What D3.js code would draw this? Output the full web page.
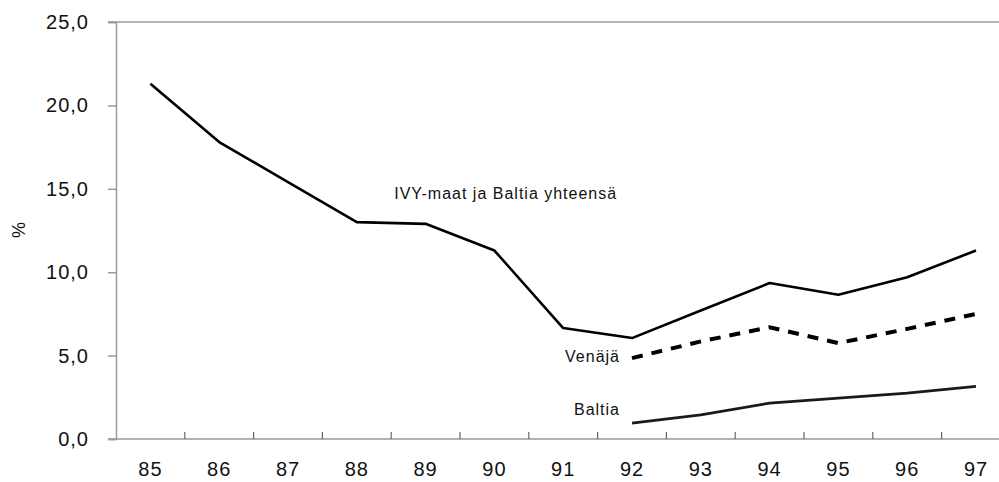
<!DOCTYPE html>
<html>
<head>
<meta charset="utf-8">
<script src="https://cdn.jsdelivr.net/npm/d3@7"></script>
<style>
  body { margin: 0; background: #fff; }
  svg { display: block; font-family: "Liberation Sans", Arial, sans-serif; }
</style>
</head>
<body>
<svg id="chart"></svg>
<script>
let years = ["85", "86", "87", "88", "89", "90", "91", "92", "93", "94", "95", "96", "97"]
let ivyValues = [21.3, 17.8, 15.4, 13.0, 12.9, 11.3, 6.65, 6.05, 7.7, 9.35, 8.65, 9.7, 11.3]
let venajaValues = [null, null, null, null, null, null, null, 4.85, 5.85, 6.7, 5.75, 6.6, 7.5]
let baltiaValues = [null, null, null, null, null, null, null, 0.95, 1.45, 2.15, 2.45, 2.75, 3.15]
let yTicks = [0, 5, 10, 15, 20, 25]

let chartWidth = 999
let chartHeight = 482
let plotLeft = 116, plotTop = 22, plotBottom = 439, step = 68.8

let svg = d3.select("#chart")
    .attr("width", chartWidth)
    .attr("height", chartHeight)

let x = d3.scaleBand()
    .domain(years)
    .range([plotLeft, plotLeft + step * years.length])
    .paddingInner(0)
    .paddingOuter(0)

let xc = (year) => x(year) + x.bandwidth() / 2

let y = d3.scaleLinear()
    .domain([0, 25])
    .range([plotBottom, plotTop])

let fmt = d3.formatLocale({ decimal: ",", thousands: " ", grouping: [3], currency: ["", ""] }).format(".1f")

let axisColor = "#9a9a9a"

// y axis
let yAxis = svg.append("g")
    .attr("transform", "translate(" + plotLeft + ",0)")
    .call(d3.axisLeft(y).tickValues(yTicks).tickFormat(fmt).tickSize(8).tickPadding(19))
yAxis.select(".domain").attr("stroke", axisColor).attr("stroke-width", 1.5)
yAxis.selectAll(".tick line").attr("stroke", axisColor).attr("stroke-width", 1.5)
yAxis.selectAll(".tick text")
    .attr("fill", "#111")
    .style("font-size", "20px")
    .style("letter-spacing", "1px")

// top border and x baseline run to the right edge
svg.append("line")
    .attr("x1", plotLeft - 8).attr("x2", chartWidth)
    .attr("y1", y(25)).attr("y2", y(25))
    .attr("stroke", axisColor).attr("stroke-width", 1.5)
svg.append("line")
    .attr("x1", plotLeft - 8).attr("x2", chartWidth)
    .attr("y1", y(0)).attr("y2", y(0))
    .attr("stroke", axisColor).attr("stroke-width", 1.5)

// x ticks between categories
svg.selectAll(".xtick")
    .data(years.slice(1))
    .enter()
    .append("line")
    .attr("class", "xtick")
    .attr("x1", (d) => x(d)).attr("x2", (d) => x(d))
    .attr("y1", y(0)).attr("y2", y(0) - 7)
    .attr("stroke", "#666").attr("stroke-width", 1.2)

svg.selectAll(".xlabel")
    .data(years)
    .enter()
    .append("text")
    .attr("class", "xlabel")
    .attr("x", (d) => xc(d))
    .attr("y", 476)
    .attr("text-anchor", "middle")
    .attr("fill", "#111")
    .style("font-size", "20px")
    .style("letter-spacing", "1px")
    .text((d) => d)

svg.append("text")
    .attr("transform", "translate(25,230) rotate(-90)")
    .attr("text-anchor", "middle")
    .attr("fill", "#111")
    .style("font-size", "18px")
    .text("%")

let line = d3.line()
    .defined((d) => d.v !== null)
    .x((d) => xc(d.year))
    .y((d) => y(d.v))

let toPoints = (values) => years.map((year, i) => ({ year: year, v: values[i] }))

svg.append("path")
    .datum(toPoints(ivyValues))
    .attr("d", line)
    .attr("fill", "none")
    .attr("stroke", "#000")
    .attr("stroke-width", 2.6)
    .attr("stroke-linejoin", "round")

svg.append("path")
    .datum(toPoints(venajaValues))
    .attr("d", line)
    .attr("fill", "none")
    .attr("stroke", "#000")
    .attr("stroke-width", 4)
    .attr("stroke-dasharray", "11,9")

svg.append("path")
    .datum(toPoints(baltiaValues))
    .attr("d", line)
    .attr("fill", "none")
    .attr("stroke", "#1a1a1a")
    .attr("stroke-width", 2.8)
    .attr("stroke-linejoin", "round")

// series labels
let labelStyle = (sel) => sel
    .attr("fill", "#111")
    .style("font-size", "16px")
    .style("letter-spacing", "1px")

svg.append("text")
    .attr("x", x("89") + 3)
    .attr("y", y(14.4))
    .call(labelStyle)
    .text("IVY-maat ja Baltia yhteensä")

svg.append("text")
    .attr("x", xc("92") - 12)
    .attr("y", y(4.6))
    .attr("text-anchor", "end")
    .call(labelStyle)
    .text("Venäjä")

svg.append("text")
    .attr("x", xc("92") - 12)
    .attr("y", y(1.45))
    .attr("text-anchor", "end")
    .call(labelStyle)
    .text("Baltia")
</script>
</body>
</html>
